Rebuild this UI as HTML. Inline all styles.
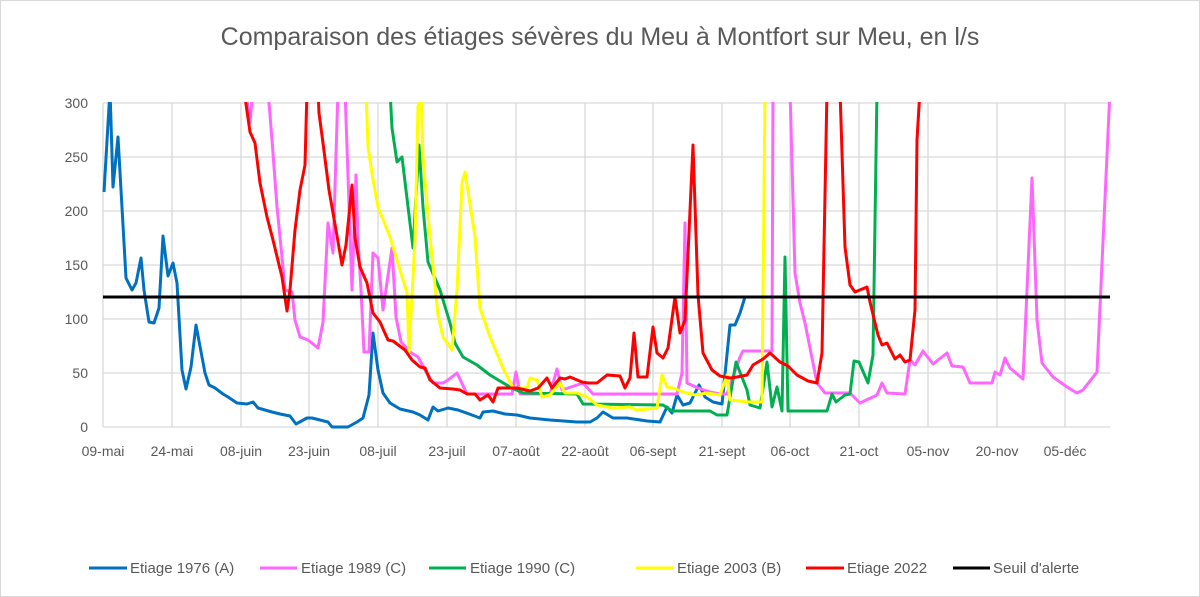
<!DOCTYPE html>
<html><head><meta charset="utf-8"><style>
html,body{margin:0;padding:0;background:#fff;}
svg{display:block;}
text{font-family:"Liberation Sans",sans-serif;fill:#595959;}
</style></head><body>
<svg width="1200" height="597" viewBox="0 0 1200 597" xmlns="http://www.w3.org/2000/svg">
<rect x="0.5" y="0.5" width="1199" height="596" fill="#fff" stroke="#d9d9d9"/>
<text x="600" y="45" font-size="25" text-anchor="middle">Comparaison des étiages sévères du Meu à Montfort sur Meu, en l/s</text>
<g stroke="#d9d9d9" stroke-width="1.3">
<line x1="103" y1="103" x2="1110" y2="103"/><line x1="103" y1="157" x2="1110" y2="157"/><line x1="103" y1="211" x2="1110" y2="211"/><line x1="103" y1="265" x2="1110" y2="265"/><line x1="103" y1="319" x2="1110" y2="319"/><line x1="103" y1="373" x2="1110" y2="373"/>
<line x1="103" y1="427" x2="1110" y2="427"/>
<line x1="103" y1="103" x2="103" y2="427"/><line x1="172" y1="103" x2="172" y2="427"/><line x1="241" y1="103" x2="241" y2="427"/><line x1="309" y1="103" x2="309" y2="427"/><line x1="378" y1="103" x2="378" y2="427"/><line x1="447" y1="103" x2="447" y2="427"/><line x1="516" y1="103" x2="516" y2="427"/><line x1="585" y1="103" x2="585" y2="427"/><line x1="653" y1="103" x2="653" y2="427"/><line x1="722" y1="103" x2="722" y2="427"/><line x1="790" y1="103" x2="790" y2="427"/><line x1="859" y1="103" x2="859" y2="427"/><line x1="928" y1="103" x2="928" y2="427"/><line x1="997" y1="103" x2="997" y2="427"/><line x1="1065" y1="103" x2="1065" y2="427"/>
</g>
<g font-size="14" text-anchor="end">
<text x="88" y="108">300</text><text x="88" y="162">250</text><text x="88" y="216">200</text><text x="88" y="270">150</text><text x="88" y="324">100</text><text x="88" y="378">50</text><text x="88" y="432">0</text>
</g>
<g font-size="14" text-anchor="middle">
<text x="103" y="456">09-mai</text><text x="172" y="456">24-mai</text><text x="241" y="456">08-juin</text><text x="309" y="456">23-juin</text><text x="378" y="456">08-juil</text><text x="447" y="456">23-juil</text><text x="516" y="456">07-août</text><text x="585" y="456">22-août</text><text x="653" y="456">06-sept</text><text x="722" y="456">21-sept</text><text x="790" y="456">06-oct</text><text x="859" y="456">21-oct</text><text x="928" y="456">05-nov</text><text x="997" y="456">20-nov</text><text x="1065" y="456">05-déc</text>
</g>
<defs><clipPath id="c"><rect x="100" y="102" width="1012" height="330"/></clipPath></defs>
<g clip-path="url(#c)" fill="none" stroke-width="3" stroke-linejoin="round">
<polyline stroke="#0070c0" points="104,192 110,90 113,187 118,137 126,278 132,290 136,283 141,258 144,290 149,322 154,323 159,308 163,236 168,276 173,263 177,283 182,370 186,389 191,367 196,325 205,373 209,385 215,388 223,394 228,397 237,403 247,404 253,402 258,408 272,412 280,414 290,416 296,424 307,418 312,418 320,420 328,422 332,427 348,427 357,422 363,418 369,395 373,333 378,370 383,393 390,403 400,409 413,412 420,415 428,420 433,407 438,411 448,408 458,410 472,415 480,418 483,412 493,411 505,414 517,415 530,418 550,420 577,422 590,422 597,418 603,412 613,418 627,418 647,421 660,422 667,407 672,413 677,395 683,405 690,403 699,385 705,397 713,402 722,404 730,325 735,325 740,313 745,297"/>
<polyline stroke="#ff66ff" points="247,100 250,123 253,90 268,90 272,140 277,207 282,257 285,290 292,292 295,320 300,337 308,340 318,348 323,322 328,223 333,253 338,90 345,90 352,290 356,175 358,240 361,290 364,352 369,352 373,253 378,258 383,310 392,248 396,317 401,342 410,352 418,357 425,370 433,383 443,383 448,380 457,373 467,394 512,394 516,372 520,394 550,394 557,369 562,390 583,383 593,394 677,394 682,373 685,223 687,383 698,388 710,392 720,394 727,394 740,357 743,351 772,351 773,90 790,90 795,273 800,303 805,323 817,383 825,393 850,393 860,403 877,395 882,383 887,393 905,394 910,360 915,365 923,351 933,364 947,353 952,366 963,367 970,383 992,383 995,372 1000,375 1005,358 1010,368 1023,379 1032,178 1037,320 1042,363 1053,377 1067,387 1077,393 1083,390 1097,372 1110,90"/>
<polyline stroke="#00b050" points="390,90 392,128 397,162 402,157 413,248 419,145 423,207 428,262 440,290 450,323 455,343 463,357 477,365 490,375 510,387 523,393 577,394 583,404 663,405 672,411 710,411 717,415 727,415 736,362 747,390 750,405 760,408 767,362 772,407 777,387 782,411 785,257 788,411 827,411 832,394 836,402 845,395 850,394 854,361 859,362 868,383 873,355 877,90"/>
<polyline stroke="#ffff00" points="366,90 368,147 373,180 378,207 390,237 407,293 409,352 415,240 418,107 421,90 423,157 430,237 438,315 443,337 452,350 457,290 462,183 465,172 475,237 480,308 490,337 503,368 513,388 527,388 530,378 537,380 542,397 550,395 560,383 565,393 577,393 587,397 597,405 613,408 630,407 637,410 657,408 662,375 667,387 673,388 683,392 695,395 707,393 720,395 723,387 727,375 730,400 748,402 762,402 765,90"/>
<polyline stroke="#ff0000" points="244,90 250,132 255,143 260,183 267,217 273,240 282,277 287,311 290,290 295,230 300,190 305,165 307,90 318,90 319,113 323,143 329,190 336,230 342,265 346,245 352,185 355,238 360,267 367,283 373,313 380,322 388,340 393,341 405,350 412,360 420,367 425,368 430,380 440,388 453,389 460,390 467,394 475,394 480,400 488,395 493,402 498,388 517,388 530,391 538,388 547,378 552,388 560,378 565,379 570,377 582,382 588,383 597,383 607,375 620,376 625,388 630,378 634,333 638,377 647,377 653,327 657,353 663,358 668,348 675,297 680,333 685,320 693,145 698,295 703,353 712,370 720,376 730,378 737,377 747,375 753,365 763,359 770,353 780,362 788,366 797,375 808,381 817,383 822,353 827,90 840,90 845,247 850,285 855,292 867,287 870,302 878,335 882,345 887,343 895,359 900,355 905,362 910,360 915,310 917,140 920,90"/>
</g>
<line x1="103" y1="297" x2="1110" y2="297" stroke="#000" stroke-width="3"/>
<g stroke-width="3">
<line x1="89" y1="568" x2="127" y2="568" stroke="#0070c0"/>
<line x1="260" y1="568" x2="297" y2="568" stroke="#ff66ff"/>
<line x1="429" y1="568" x2="466" y2="568" stroke="#00b050"/>
<line x1="636" y1="568" x2="673" y2="568" stroke="#ffff00"/>
<line x1="806" y1="568" x2="844" y2="568" stroke="#ff0000"/>
<line x1="953" y1="568" x2="990" y2="568" stroke="#000"/>
</g>
<g font-size="15">
<text x="130" y="573">Etiage 1976 (A)</text>
<text x="301" y="573">Etiage 1989 (C)</text>
<text x="470" y="573">Etiage 1990 (C)</text>
<text x="677" y="573">Etiage 2003 (B)</text>
<text x="847" y="573">Etiage 2022</text>
<text x="993" y="573">Seuil d'alerte</text>
</g>
</svg>
</body></html>
